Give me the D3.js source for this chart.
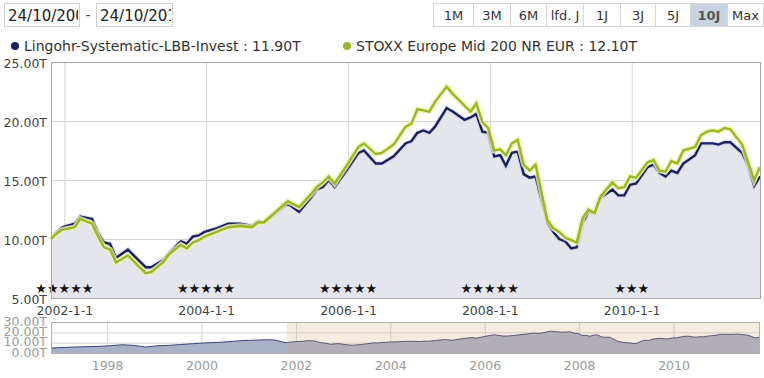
<html>
<head>
  <script src="https://d3js.org/d3.v7.min.js"></script>
  <style>
    body { margin: 0; background: #fff; }
    text { font-family: "DejaVu Sans", Verdana, sans-serif; }
    .grid line { stroke: #d4d4d4; }
    .grid .domain { stroke: none; }
    .lbl text { fill: #444; font-size: 12.5px; }
    .lbl .domain, .lbl line { stroke: none; }
    .navlbl text { fill: #9a9a9a; font-size: 12.5px; }
    .navlbl .domain, .navlbl line { stroke: none; }
  </style>
</head>
<body>
  <svg id="chart" width="764" height="378"></svg>
  <script>
    // main period, one value per month (day 24)
    const months = [
      "2001-10", "2001-11", "2001-12",
      "2002-02", "2002-03", "2002-05", "2002-06", "2002-07", "2002-08", "2002-09", "2002-11",
      "2003-01", "2003-02", "2003-03", "2003-05", "2003-06", "2003-08", "2003-09", "2003-10", "2003-11", "2003-12",
      "2004-02", "2004-04", "2004-06", "2004-08", "2004-09", "2004-10", "2004-12",
      "2005-02", "2005-04", "2005-06", "2005-07", "2005-08", "2005-09", "2005-10", "2005-12",
      "2006-02", "2006-03", "2006-05", "2006-06", "2006-08", "2006-10", "2006-11", "2006-12",
      "2007-01", "2007-02", "2007-03", "2007-05", "2007-06", "2007-08", "2007-09", "2007-10", "2007-11", "2007-12",
      "2008-01", "2008-02", "2008-03", "2008-04", "2008-05", "2008-06", "2008-07", "2008-08", "2008-10", "2008-11", "2008-12",
      "2009-01", "2009-02", "2009-03", "2009-04", "2009-05", "2009-06", "2009-07", "2009-09", "2009-10", "2009-11", "2009-12",
      "2010-01", "2010-03", "2010-04", "2010-05", "2010-06", "2010-07", "2010-08", "2010-09", "2010-11", "2010-12",
      "2011-01", "2011-02", "2011-03", "2011-04", "2011-05", "2011-07", "2011-08", "2011-09", "2011-10"
    ];
    const lingohr = [
      10.0, 10.6, 11.0,
      11.3, 11.9, 11.7, 10.5, 9.7, 9.6, 8.4, 9.1,
      8.1, 7.6, 7.6, 8.2, 8.8, 9.8, 9.6, 10.2, 10.3, 10.6,
      10.9, 11.3, 11.3, 11.1, 11.5, 11.4, 12.2,
      13.0, 12.3, 13.5, 14.2, 14.4, 15.0, 14.4, 15.8,
      17.3, 17.5, 16.4, 16.4, 17.0, 18.1, 18.3, 19.0,
      19.2, 19.0, 19.5, 21.1, 20.8, 20.1, 20.3, 20.6, 19.1, 19.0,
      17.0, 17.1, 16.2, 17.3, 17.4, 15.5, 15.2, 15.3, 11.4, 10.6, 10.0,
      9.8, 9.2, 9.3, 11.4, 12.3, 12.2, 13.5, 14.2, 13.7, 13.7, 14.6,
      14.7, 16.1, 16.3, 15.6, 15.3, 15.8, 15.6, 16.4, 17.1, 18.1,
      18.1, 18.1, 18.0, 18.2, 18.2, 17.3, 16.2, 14.5, 15.3
    ];
    const stoxx = [
      10.0, 10.5, 10.8,
      11.0, 11.7, 11.3, 10.2, 9.3, 9.1, 8.0, 8.6,
      7.6, 7.1, 7.2, 8.0, 8.7, 9.5, 9.2, 9.7, 9.9, 10.2,
      10.6, 11.0, 11.1, 11.0, 11.4, 11.4, 12.3,
      13.2, 12.7, 13.8, 14.4, 14.8, 15.3, 14.7, 16.2,
      17.8, 18.1, 17.2, 17.3, 18.0, 19.5, 19.8, 21.0,
      20.9, 20.8, 21.6, 22.9, 22.3, 21.3, 20.8, 21.5, 19.9, 19.4,
      17.5, 17.6, 17.1, 18.1, 18.4, 16.3, 15.8, 16.3, 11.6, 10.9, 10.6,
      10.1, 9.9, 9.7, 11.8, 12.5, 12.2, 13.6, 14.8, 14.3, 14.4, 15.3,
      15.2, 16.5, 16.7, 15.8, 15.7, 16.6, 16.4, 17.5, 17.8, 18.8,
      19.1, 19.2, 19.1, 19.4, 19.3, 18.0, 16.5, 15.0, 16.1
    ];
    // older history of the fund, only in the navigator
    const historyMonths = ["1996-10", "1997-04", "1997-10", "1998-01", "1998-04", "1998-07", "1998-10",
      "1999-01", "1999-04", "1999-07", "1999-10", "2000-01", "2000-04", "2000-07", "2000-10",
      "2001-01", "2001-05", "2001-07", "2001-09"];
    const historyValues = [4.8, 5.8, 6.4, 7.0, 8.0, 7.4, 5.8,
      7.0, 7.4, 8.2, 9.0, 9.7, 10.2, 10.9, 11.9,
      12.3, 12.9, 12.5, 10.5];

    const yTicks = [5, 10, 15, 20, 25];
    const navTicks = [0, 10, 20, 30];
    const yearTicks = ["2002-01-01", "2004-01-01", "2006-01-01", "2008-01-01", "2010-01-01"];
    const navYears = ["1998-01-01", "2000-01-01", "2002-01-01", "2004-01-01", "2006-01-01", "2008-01-01", "2010-01-01"];
    const starCounts = [5, 5, 5, 5, 3];
    const buttons = ["1M", "3M", "6M", "lfd. J", "1J", "3J", "5J", "10J", "Max"];
    const buttonWidths = [40, 37, 36, 37, 37, 35, 35, 37, 36];
    const activeButton = "10J";
    const seriesNames = ["Lingohr-Systematic-LBB-Invest", "STOXX Europe Mid 200 NR EUR"];
    const lastValues = ["11.90T", "12.10T"];
    const fromDate = "24/10/2001", toDate = "24/10/2011";

    const parseMonth = d3.timeParse("%Y-%m-%d");
    const toDateObj = m => parseMonth(m + "-24");
    const mainData = months.map((m, i) => ({ date: toDateObj(m), a: lingohr[i], b: stoxx[i] }));
    const navData = historyMonths.map((m, i) => ({ date: toDateObj(m), v: historyValues[i] }))
      .concat(mainData.map(d => ({ date: d.date, v: d.a })));

    const svg = d3.select("svg#chart");
    const plot = { left: 51, right: 760, top: 62, bottom: 298 };
    const nav = { left: 51, right: 759, top: 322, bottom: 353 };
    const fmtT = d => d.toFixed(2) + "T";

    const x = d3.scaleTime()
      .domain([parseMonth("2001-10-24"), parseMonth("2011-10-24")])
      .range([plot.left, plot.right]);
    const y = d3.scaleLinear().domain([5, 25]).range([plot.bottom, plot.top]);
    const nx = d3.scaleTime()
      .domain([parseMonth("1996-10-24"), parseMonth("2011-10-24")])
      .range([nav.left, nav.right]);
    const ny = d3.scaleLinear().domain([0, 30]).range([nav.bottom, nav.top]);

    // date inputs
    const inputs = [{ x: 4, w: 75, t: fromDate }, { x: 96, w: 76, t: toDate }];
    inputs.forEach((b, i) => {
      svg.append("clipPath").attr("id", "clip" + i)
        .append("rect").attr("x", b.x + 1).attr("y", 4).attr("width", b.w - 2).attr("height", 22);
      svg.append("rect").attr("x", b.x + 0.5).attr("y", 3.5).attr("width", b.w).attr("height", 23)
        .style("fill", "#fff").style("stroke", "#cfcfcf");
      svg.append("text").text(b.t)
        .attr("x", b.x + 4).attr("y", 21)
        .attr("clip-path", "url(#clip" + i + ")")
        .style("font-size", "15px").style("fill", "#222");
    });
    svg.append("text").text("-").attr("x", 85.5).attr("y", 20)
      .style("font-size", "14px").style("fill", "#444");

    // range buttons
    let bx = 433;
    buttons.forEach((b, i) => {
      const w = buttonWidths[i];
      svg.append("rect").attr("x", bx + 0.5).attr("y", 3.5).attr("width", w).attr("height", 23)
        .style("fill", b === activeButton ? "#c9d3df" : "#fff").style("stroke", "#d6d6d6");
      svg.append("text").text(b)
        .attr("x", bx + w / 2 + 0.5).attr("y", 20)
        .attr("text-anchor", "middle")
        .style("font-size", "13px")
        .style("font-weight", b === activeButton ? "bold" : "normal")
        .style("fill", b === activeButton ? "#555" : "#333");
      bx += w;
    });

    // legend
    const legendX = [15, 347];
    const colors = ["#1b205e", "#9ab823"];
    seriesNames.forEach((s, i) => {
      svg.append("circle").attr("cx", legendX[i]).attr("cy", 46).attr("r", 4).style("fill", colors[i]);
      svg.append("text").text(s + " : " + lastValues[i])
        .attr("x", legendX[i] + 9).attr("y", 51)
        .style("font-size", "14px").style("fill", "#333");
    });

    // main plot
    svg.append("g").attr("class", "grid")
      .attr("transform", "translate(" + plot.left + ",0)")
      .call(d3.axisLeft(y).tickValues(yTicks.slice(1, -1)).tickSize(-(plot.right - plot.left)).tickFormat(""));
    svg.append("g").attr("class", "grid")
      .attr("transform", "translate(0," + plot.bottom + ")")
      .call(d3.axisBottom(x).tickValues(yearTicks.map(parseMonth)).tickSize(-(plot.bottom - plot.top)).tickFormat(""));

    const area = d3.area().x(d => x(d.date)).y0(y(5)).y1(d => y(d.a));
    svg.append("path").datum(mainData).attr("d", area).style("fill", "#e4e5ed");

    svg.selectAll(".stars").data(yearTicks).join("text")
      .attr("class", "stars")
      .text((d, i) => "★".repeat(starCounts[i]))
      .attr("x", d => x(parseMonth(d)))
      .attr("y", 293)
      .attr("text-anchor", "middle")
      .style("font-size", "13px").style("fill", "#111");

    const lineA = d3.line().x(d => x(d.date)).y(d => y(d.a));
    const lineB = d3.line().x(d => x(d.date)).y(d => y(d.b));
    svg.append("path").datum(mainData).attr("d", lineA)
      .style("fill", "none").style("stroke", "#c9cce0").style("stroke-width", 4.5).style("opacity", 0.6);
    svg.append("path").datum(mainData).attr("d", lineA)
      .style("fill", "none").style("stroke", colors[0]).style("stroke-width", 2.4);
    svg.append("path").datum(mainData).attr("d", lineB)
      .style("fill", "none").style("stroke", "#eef3b0").style("stroke-width", 5.5).style("opacity", 0.8);
    svg.append("path").datum(mainData).attr("d", lineB)
      .style("fill", "none").style("stroke", colors[1]).style("stroke-width", 2.4);

    svg.append("rect").attr("x", plot.left + 0.5).attr("y", plot.top + 0.5)
      .attr("width", plot.right - plot.left).attr("height", plot.bottom - plot.top)
      .style("fill", "none").style("stroke", "#a8a8a8");

    svg.append("g").attr("class", "lbl")
      .attr("transform", "translate(" + (plot.left - 4) + ",1.5)")
      .call(d3.axisLeft(y).tickValues(yTicks).tickSize(0).tickPadding(0).tickFormat(fmtT));
    svg.append("g").attr("class", "lbl")
      .attr("transform", "translate(0," + (plot.bottom + 2) + ")")
      .call(d3.axisBottom(x).tickValues(yearTicks.map(parseMonth)).tickSize(0).tickPadding(6)
        .tickFormat(d3.timeFormat("%Y-%-m-%-d")));

    // navigator
    svg.append("g").attr("class", "grid")
      .attr("transform", "translate(" + nav.left + ",0)")
      .call(d3.axisLeft(ny).tickValues([10, 20]).tickSize(-(nav.right - nav.left)).tickFormat(""));
    svg.append("g").attr("class", "grid")
      .attr("transform", "translate(0," + nav.bottom + ")")
      .call(d3.axisBottom(nx).tickValues(navYears.map(parseMonth)).tickSize(-(nav.bottom - nav.top)).tickFormat(""));

    const navArea = d3.area().x(d => nx(d.date)).y0(ny(0)).y1(d => ny(d.v));
    const navLine = d3.line().x(d => nx(d.date)).y(d => ny(d.v));
    svg.append("path").datum(navData).attr("d", navArea).style("fill", "#a9b1c9");
    svg.append("path").datum(navData).attr("d", navLine)
      .style("fill", "none").style("stroke", "#3a4575").style("stroke-width", 1);

    const selX = nx(x.domain()[0]);
    svg.append("rect").attr("x", selX).attr("y", nav.top)
      .attr("width", nav.right - selX).attr("height", nav.bottom - nav.top)
      .style("fill", "rgb(210,165,110)").style("opacity", 0.22);
    svg.append("rect").attr("x", nav.left + 0.5).attr("y", nav.top + 0.5)
      .attr("width", nav.right - nav.left).attr("height", nav.bottom - nav.top)
      .style("fill", "none").style("stroke", "#b5b0a8");

    svg.append("g").attr("class", "navlbl")
      .attr("transform", "translate(" + (nav.left - 4) + ",-1)")
      .call(d3.axisLeft(ny).tickValues(navTicks).tickSize(0).tickPadding(0).tickFormat(fmtT));
    svg.append("g").attr("class", "navlbl")
      .attr("transform", "translate(0," + (nav.bottom + 5) + ")")
      .call(d3.axisBottom(nx).tickValues(navYears.map(parseMonth)).tickSize(0).tickPadding(3)
        .tickFormat(d3.timeFormat("%Y")));
  </script>
</body>
</html>
